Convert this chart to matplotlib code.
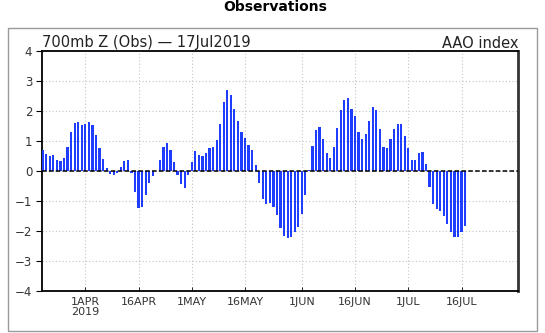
# Coding: utf-8

"""Daily AAO index bar chart (700mb Z observations)."""

import matplotlib
matplotlib.use('Agg')
import matplotlib.pyplot as plt
import matplotlib.dates as mdates
from matplotlib.patches import Rectangle
import pandas as pd

# Daily AAO index, 20 Mar 2019 - 17 Jul 2019
start_date = '2019-03-20'
aao = [
    0.69, 0.58, 0.51, 0.52, 0.38, 0.34, 0.44, 0.81, 1.31, 1.60,
    1.64, 1.52, 1.57, 1.64, 1.54, 1.21, 0.78, 0.41, 0.10, -0.11,
    -0.14, -0.07, 0.14, 0.34, 0.38, -0.08, -0.69, -1.23, -1.21, -0.79,
    -0.41, -0.18, 0.00, 0.38, 0.81, 0.93, 0.69, 0.31, -0.14, -0.43,
    -0.58, -0.14, 0.31, 0.67, 0.54, 0.51, 0.61, 0.78, 0.80, 1.04,
    1.58, 2.31, 2.71, 2.54, 2.08, 1.68, 1.31, 1.11, 0.88, 0.69,
    0.21, -0.41, -0.92, -1.11, -1.08, -1.20, -1.48, -1.91, -2.18, -2.24,
    -2.21, -2.04, -1.87, -1.44, -0.81, 0.03, 0.84, 1.36, 1.46, 1.08,
    0.60, 0.44, 0.81, 1.44, 2.04, 2.38, 2.44, 2.08, 1.84, 1.31,
    1.08, 1.24, 1.67, 2.14, 2.04, 1.39, 0.81, 0.78, 1.08, 1.39,
    1.57, 1.56, 1.18, 0.78, 0.38, 0.38, 0.59, 0.64, 0.24, -0.53,
    -1.11, -1.28, -1.34, -1.51, -1.77, -2.04, -2.21, -2.21, -2.04, -1.84,
]
dates = pd.date_range(start_date, periods=len(aao), freq='D')

tick_dates = ['2019-04-01', '2019-04-16', '2019-05-01', '2019-05-16',
              '2019-06-01', '2019-06-16', '2019-07-01', '2019-07-16']
tick_labels = ['1APR\n2019', '16APR', '1MAY', '16MAY',
               '1JUN', '16JUN', '1JUL', '16JUL']
y_ticks = [-4, -3, -2, -1, 0, 1, 2, 3, 4]

fig = plt.figure(figsize=(5.45, 3.33), dpi=100)
ax = fig.add_axes([42 / 545, 42 / 333, 476 / 545, 240 / 333])

# outer frame round the whole panel
fig.patches.append(Rectangle((8 / 545, 2 / 333), 529 / 545, 303 / 333,
                             transform=fig.transFigure, fill=False,
                             edgecolor='#9a9a9a', linewidth=1.0))

ax.bar(dates, aao, width=0.62, color='#1f3dff', edgecolor='none', zorder=3)
ax.axhline(0, color='black', linewidth=1.1, linestyle=(0, (3, 1.5)), zorder=4)

x0 = pd.Timestamp(start_date) - pd.Timedelta(hours=5)
x1 = pd.Timestamp('2019-07-31') + pd.Timedelta(hours=22)
ax.set_xlim(x0, x1)
ax.set_ylim(-4, 4)

ax.set_xticks(pd.to_datetime(tick_dates))
ax.set_xticklabels(tick_labels, fontsize=8, color='#333333', linespacing=1.05)
ax.set_yticks(y_ticks)
ax.set_yticklabels([str(v) for v in y_ticks], fontsize=8.5, color='#333333')
ax.yaxis.set_major_formatter(matplotlib.ticker.FuncFormatter(
    lambda v, p: str(int(v)).replace('-', '\u2212')))
ax.tick_params(axis='x', direction='in', length=3, width=0.6, pad=4)
ax.tick_params(axis='y', direction='out', length=4, width=0.8, pad=3)

ax.grid(True, color='#c4c4c4', linestyle=(0, (1, 2)), linewidth=0.8, zorder=0)
for side in ['left', 'bottom', 'top']:
    ax.spines[side].set_linewidth(1.3)
ax.spines['right'].set_linewidth(2.0)
ax.spines['right'].set_color('#333333')

fig.text(0.505, 0.979, 'Observations', ha='center', va='center',
         fontsize=10, fontweight='bold')
fig.text(42 / 545, 1 - 43 / 333, '700mb Z (Obs) \u2014 17Jul2019',
         ha='left', va='center', fontsize=10.5, color='#222222')
fig.text(519 / 545, 1 - 43 / 333, 'AAO index',
         ha='right', va='center', fontsize=10.5, color='#222222')

plt.savefig('out.png', dpi=100)
